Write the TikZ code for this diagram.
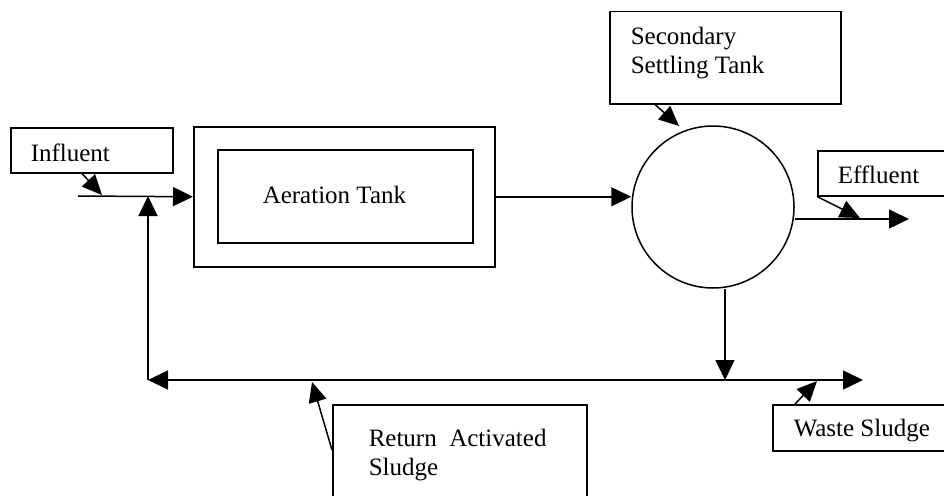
\documentclass[tikz,border=0pt]{standalone}
\usepackage{fontspec}
\setmainfont{Liberation Serif}
\usetikzlibrary{arrows.meta}
\begin{document}
\begin{tikzpicture}[x=1pt,y=-1pt,
  line width=1.5pt,
  box/.style={draw,line width=1.5pt,rectangle,inner sep=0pt,anchor=north west},
  lbl/.style={anchor=base west,inner sep=0pt,font=\fontsize{25}{29}\selectfont,align=left},
  flow/.style={-{Triangle[length=20pt,width=19pt]}},
  callout/.style={line width=1.5pt,-{Triangle[length=20pt,width=18pt]}}]
\clip (0,0) rectangle (944,495);
\fill[white] (0,0) rectangle (944,495);
% boxes
\node[box,minimum width=162pt,minimum height=45pt] (inf) at (10,127) {};
\node[lbl] (inftxt) at (30,161) {Influent};
\node[box,minimum width=301pt,minimum height=140pt] (aerout) at (193,126) {};
\node[box,minimum width=255pt,minimum height=93pt] (aerin) at (217,149) {};
\node[lbl] (aertxt) at (262,203) {Aeration Tank};
\node[box,minimum width=231pt,minimum height=92pt] (sec) at (609,11) {};
\node[lbl] (sectxt) at (630,74) {Secondary\\Settling Tank};
\node[draw,circle,minimum size=162pt,inner sep=0pt,line width=1.5pt] (circ) at (713,207) {};
\node[box,minimum width=140pt,minimum height=45pt] (eff) at (817,150) {};
\node[lbl] (efftxt) at (837,183) {Effluent};
\node[box,minimum width=180pt,minimum height=46pt] (waste) at (772,404) {};
\node[lbl] (wastetxt) at (793,436) {Waste Sludge};
\node[box,minimum width=254pt,minimum height=100pt] (ret) at (332,404) {};
\node[lbl] (rettxt) at (368,475) {Return\ \ Activated\\Sludge};
% coordinates
\coordinate (inStart) at (78,196);
\coordinate (inJ) at (148,196);
\coordinate (retL) at (148,380);
\coordinate (j) at (725,380);
\coordinate (wasteEnd) at (863,380);
\coordinate (effEnd) at (909,219);
% flow lines
\draw[flow] (inStart) -- (aerout.west);
\draw[flow] (retL) -- (inJ);
\draw[flow] (aerout.east) -- (circ.west |- aerout.east);
\draw[flow] (circ.east |- effEnd) -- (effEnd);
\draw[flow] (circ.south -| j) -- (j);
\draw[{Triangle[length=20pt,width=19pt]}-{Triangle[length=20pt,width=19pt]}] (retL) -- (wasteEnd);
% callouts
\draw[callout] ([xshift=72pt]inf.south west) -- (102,195);
\draw[callout] ([xshift=46pt]sec.south west) -- (679,126);
\draw[callout] (eff.south west) -- (860,218);
\draw[callout] ([xshift=23pt]waste.north west) -- (817,381);
\draw[callout] ([yshift=-46pt]ret.north west) -- (312,382);
\end{tikzpicture}
\end{document}
